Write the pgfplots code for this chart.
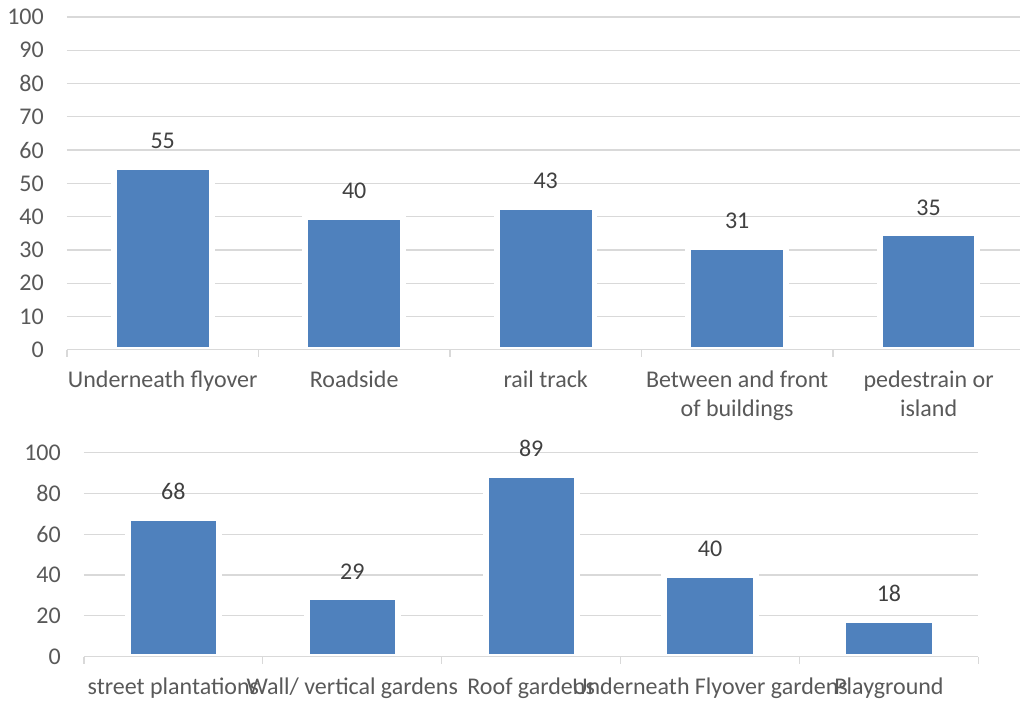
\documentclass[border=0pt]{standalone}
\usepackage{fontspec}
\setmainfont{Carlito}
\usepackage{pgfplots}
\pgfplotsset{compat=1.18}

\definecolor{barblue}{HTML}{4F81BD}
\definecolor{gridgray}{HTML}{D9D9D9}
\definecolor{ticktext}{HTML}{595959}
\definecolor{valtext}{HTML}{404040}

\pgfplotsset{
  % bars sit under the axis line and tick marks, above the grid
  layers/barsbelowaxis/.define layer set={
    axis background,axis grid,main,axis ticks,axis lines,
    axis tick labels,axis descriptions,axis foreground
  }{/pgfplots/layers/standard},
  panel/.style={
    set layers=barsbelowaxis,
    scale only axis,
    anchor=south west,
    ymin=0, ymax=100,
    xmin=-0.5, xmax=4.5,
    axis x line=bottom,
    axis y line=left,
    y axis line style={draw=none},
    x axis line style={-, draw=gridgray, line width=1.3pt},
    ymajorgrids,
    major grid style={draw=gridgray, line width=1.3pt},
    xtick={0,...,4},
    minor xtick={-0.5,0.5,...,4.5},
    tick align=outside,
    major tick length=0pt,
    minor tick length=7pt,
    minor x tick style={draw=gridgray, line width=1.3pt},
    ytick style={draw=none},
    major x tick style={draw=none},
    tick label style={font=\fontsize{24}{29}\selectfont, text=ticktext, inner sep=0pt},
    yticklabel style={anchor=east, xshift=-23pt},
    xticklabel style={anchor=north, align=center, yshift=-21pt},
    /pgf/number format/assume math mode=true,
    ybar, bar width=0.51,
    nodes near coords,
    every node near coord/.append style={font=\fontsize{24}{29}\selectfont,
      text=valtext, anchor=south, inner sep=0pt, yshift=15pt},
  },
  bars/.style={fill=barblue, draw=white, line width=6pt},
}

\begin{document}
\begin{tikzpicture}[x=1pt,y=1pt]
\path (0,0) rectangle (1021,704);

% locations where plants are grown
\begin{axis}[panel,
  at={(67pt,354pt)}, width=954pt, height=333pt,
  xmax=4.479,
  ytick={0,10,...,100},
  xticklabels={{Underneath flyover},{Roadside},{rail track},
    {Between and front\\of buildings},{pedestrain or\\island}},
]
\addplot[bars] coordinates {(0,55) (1,40) (2,43) (3,31) (4,35)};
\end{axis}

% types of green space
\begin{axis}[panel,
  at={(84pt,47pt)}, width=895pt, height=204pt,
  ytick={0,20,...,100},
  xticklabels={{street plantations},{Wall/ vertical gardens},{Roof gardens},
    {Underneath Flyover gardens},{Playground}},
]
\addplot[bars] coordinates {(0,68) (1,29) (2,89) (3,40) (4,18)};
\end{axis}
\end{tikzpicture}
\end{document}
